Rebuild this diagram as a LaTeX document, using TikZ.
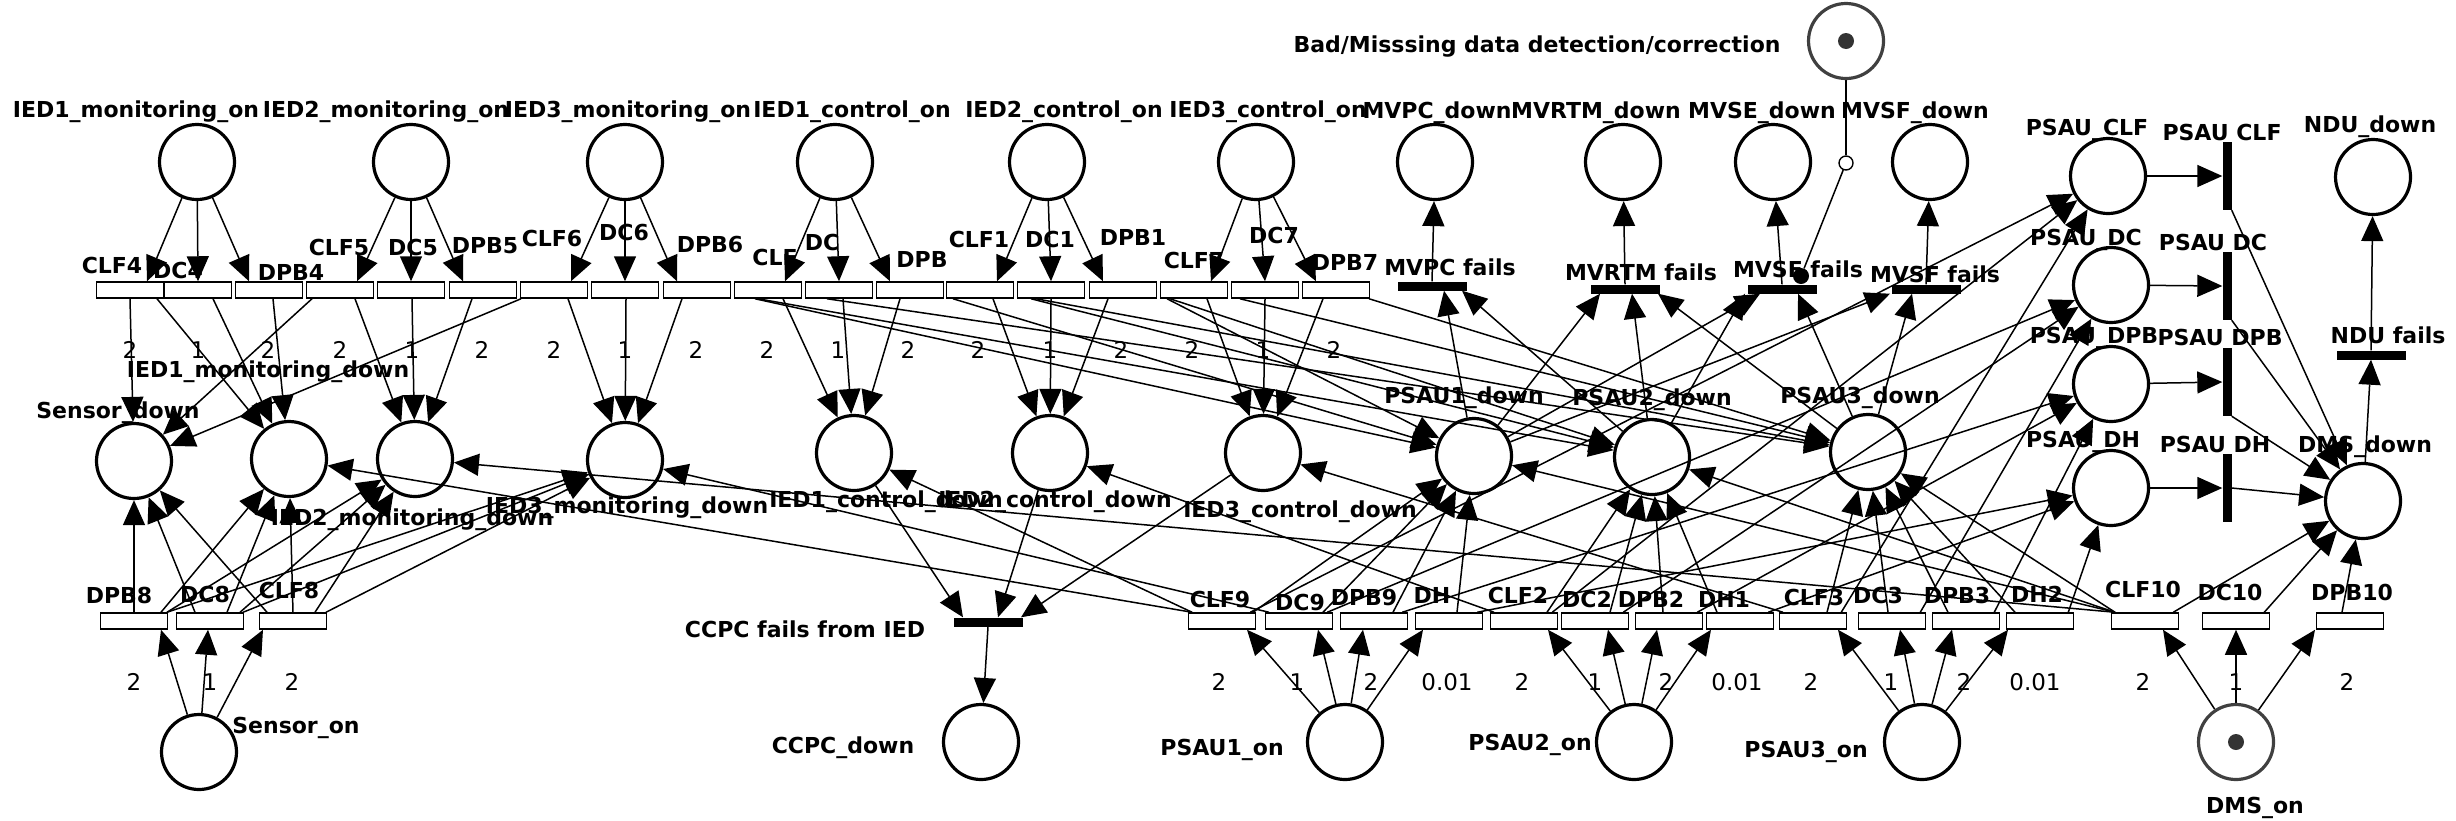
\documentclass[tikz,border=0pt]{standalone}
\usepackage{fontspec}
\setmainfont{DejaVu Sans}
\usetikzlibrary{arrows.meta, calc, backgrounds}

\tikzset{
  pl/.style={circle, draw, line width=3.2pt, minimum size=75pt, inner sep=0pt},
  tok/.style={circle, fill=black!80, minimum size=16pt, inner sep=0pt},
  tbox/.style={rectangle, draw, fill=white, line width=1.5pt, minimum width=67pt, minimum height=16pt, inner sep=0pt},
  hbar/.style={rectangle, fill=black, minimum width=69pt, minimum height=9pt, inner sep=0pt},
  vbar/.style={rectangle, fill=black, minimum width=9pt, minimum height=68pt, inner sep=0pt},
  lbl/.style={font=\fontsize{22}{24}\selectfont\bfseries, anchor=base, inner sep=0pt},
  wt/.style={font=\fontsize{23}{25}\selectfont, anchor=base, inner sep=0pt},
  flow/.style={line width=1.5pt, -{Triangle[length=25pt,width=22pt]}},
}

\begin{document}
\begin{tikzpicture}[x=1pt, y=-1pt]
\useasboundingbox (0,0) rectangle (2456,820);

% places
\foreach \n/\x/\y in {imon1/197/162, imon2/411/162, imon3/625/162, ictl1/835/162, ictl2/1047/162, ictl3/1256/162,
    mvpcd/1435/162, mvrtmd/1623/162, mvsed/1773/162, mvsfd/1930/162,
    psauclf/2108/176, psaudc/2111/285, psaudpb/2111/384, psaudh/2111/488, ndud/2373/177, dmsd/2363/501,
    sensd/134/461, imd1/289/459, imd2/415/459, imd3/625/460, icd1/854/453, icd2/1050/453, icd3/1263/453,
    p1d/1474/456, p2d/1652/457, p3d/1868/452,
    senson/199/752, ccpcd/981/742, p1on/1345/742, p2on/1634/742, p3on/1922/742}
  \node[pl] (\n) at (\x,\y) {};
\node[pl, draw=black!75] (bad) at (1846,41) {};
\node[pl, draw=black!75] (dmson) at (2236,742) {};
\node[tok] (badtok) at (bad) {};
\node[tok] (dmstok) at (dmson) {};

% timed transitions
\foreach \n/\x in {clf4/130, dc4/198, dpb4/269, clf5/340, dc5/411, dpb5/483, clf6/554, dc6/625, dpb6/697,
    clf/768, dc/839, dpb/910, clf1/980, dc1/1051, dpb1/1123, clf7/1194, dc7/1265, dpb7/1336}
  \node[tbox] (\n) at (\x,290) {};
\foreach \n/\x in {dpb8/134, dc8/210, clf8/293, clf9/1222, dc9/1299, dpb9/1374, dh/1449,
    clf2/1524, dc2/1595, dpb2/1669, dh1/1740, clf3/1813, dc3/1892, dpb3/1966, dh2/2040,
    clf10/2145, dc10/2236, dpb10/2350}
  \node[tbox] (\n) at (\x,621) {};

% immediate transitions
\foreach \n/\x/\y in {mvpcf/1432/286, mvrtmf/1625/289, mvsef/1782/289, mvsff/1926/289, ccpcf/988/622, nduf/2371/355}
  \node[hbar] (\n) at (\x,\y) {};
\foreach \n/\y in {clfbar/176, dcbar/286, dpbbar/382, dhbar/488}
  \node[vbar] (\n) at (2227,\y) {};

% inhibitor
\node[circle, draw, line width=1.4pt, fill=white, minimum size=14pt, inner sep=0pt] (inhring) at (1846,163) {};
\node[circle, fill=black, minimum size=16pt, inner sep=0pt] (inhdot) at (1801,276) {};

\begin{scope}[on background layer]
% place labels
\node[lbl] (lbad) at (1537,52) {Bad/Misssing data detection/correction};
\foreach \n/\t/\x/\y in {imon1/IED1\_monitoring\_on/136/117, imon2/IED2\_monitoring\_on/386/117, imon3/IED3\_monitoring\_on/628/117,
    ictl1/IED1\_control\_on/852/117, ictl2/IED2\_control\_on/1064/117, ictl3/IED3\_control\_on/1268/117,
    mvpcd/MVPC\_down/1437/118, mvrtmd/MVRTM\_down/1596/118, mvsed/MVSE\_down/1762/118, mvsfd/MVSF\_down/1915/118,
    psauclf/PSAU\_CLF/2087/135, psaudc/PSAU\_DC/2086/245, psaudpb/PSAU\_DPB/2094/343, psaudh/PSAU\_DH/2083/447,
    ndud/NDU\_down/2370/132, dmsd/DMS\_down/2365/452,
    sensd/Sensor\_down/118/418, imd1/IED1\_monitoring\_down/268/377, imd2/IED2\_monitoring\_down/412/525,
    imd3/IED3\_monitoring\_down/627/513, icd1/IED1\_control\_down/886/507, icd2/IED2\_control\_down/1055/507,
    icd3/IED3\_control\_down/1300/517, p1d/PSAU1\_down/1464/403, p2d/PSAU2\_down/1652/405, p3d/PSAU3\_down/1860/403,
    ccpcd/CCPC\_down/843/753, senson/Sensor\_on/296/733, p1on/PSAU1\_on/1222/755, p2on/PSAU2\_on/1530/750,
    p3on/PSAU3\_on/1806/757, dmson/DMS\_on/2255/813}
  \node[lbl] (l\n) at (\x,\y) {\t};

% transition labels
\foreach \n/\t/\x/\y in {clf4/CLF4/112/273, dc4/DC4/178/278, dpb4/DPB4/291/280, clf5/CLF5/339/255, dc5/DC5/413/255,
    dpb5/DPB5/485/253, clf6/CLF6/552/246, dc6/DC6/624/240, dpb6/DPB6/710/252, clf/CLF/775/265, dc/DC/822/250,
    dpb/DPB/922/267, clf1/CLF1/979/247, dc1/DC1/1050/247, dpb1/DPB1/1133/245, clf7/CLF7/1194/268, dc7/DC7/1274/243,
    dpb7/DPB7/1345/270,
    dpb8/DPB8/119/603, dc8/DC8/205/602, clf8/CLF8/289/598, clf9/CLF9/1220/607, dc9/DC9/1300/610, dpb9/DPB9/1364/605,
    dh/DH/1432/603, clf2/CLF2/1518/603, dc2/DC2/1587/607, dpb2/DPB2/1651/607, dh1/DH1/1724/607, clf3/CLF3/1814/605,
    dc3/DC3/1878/603, dpb3/DPB3/1957/603, dh2/DH2/2037/602, clf10/CLF10/2143/597, dc10/DC10/2230/600,
    dpb10/DPB10/2352/600,
    mvpcf/MVPC fails/1450/275, mvrtmf/MVRTM fails/1641/280, mvsef/MVSE fails/1798/277, mvsff/MVSF fails/1935/282,
    ccpcf/CCPC fails from IED/805/637, nduf/NDU fails/2388/343,
    clfbar/PSAU CLF/2222/140, dcbar/PSAU DC/2213/250, dpbbar/PSAU DPB/2220/345, dhbar/PSAU DH/2215/452}
  \node[lbl] (l\n) at (\x,\y) {\t};

% weights
\foreach \x/\w [count=\i] in {130/2, 198/1, 268/2, 340/2, 412/1, 482/2, 554/2, 625/1, 696/2, 767/2, 838/1, 908/2,
    978/2, 1050/1, 1121/2, 1192/2, 1263/1, 1334/2}
  \node[wt] (wtop\i) at (\x,358) {\w};
\foreach \x/\w [count=\i] in {134/2, 210/1, 292/2, 1219/2, 1297/1, 1371/2, 1447/0.01, 1522/2, 1595/1, 1666/2,
    1737/0.01, 1811/2, 1891/1, 1964/2, 2035/0.01, 2143/2, 2236/1, 2347/2}
  \node[wt] (wbot\i) at (\x,690) {\w};

% on places to upper transitions
\foreach \s/\t/\d in {imon1/clf4/17, imon1/dc4/0, imon1/dpb4/-20, imon2/clf5/17, imon2/dc5/0, imon2/dpb5/-20,
    imon3/clf6/17, imon3/dc6/0, imon3/dpb6/-20, ictl1/clf/17, ictl1/dc/0, ictl1/dpb/-20,
    ictl2/clf1/17, ictl2/dc1/0, ictl2/dpb1/-20, ictl3/clf7/17, ictl3/dc7/0, ictl3/dpb7/-20}
  \draw[flow] (\s) -- ($(\t.north)+(\d,0)$);

% upper transitions to down places
\foreach \s/\d/\t in {clf4/0/sensd, clf4/27/imd1, dc4/15/imd1, dpb4/4/imd1, clf5/-28/sensd, clf5/15/imd2,
    dc5/1/imd2, dpb5/-11/imd2, clf6/-33/sensd, clf6/14/imd3, dc6/1/imd3, dpb6/-15/imd3,
    clf/15/icd1, dc/4/icd1, dpb/-10/icd1, clf1/13/icd2, dc1/0/icd2, dpb1/-15/icd2,
    clf7/13/icd3, dc7/0/icd3, dpb7/-13/icd3,
    clf/-13/p1d, clf/-10/p2d, dc/-12/p3d, clf1/-27/p1d, dc1/-20/p2d, dc1/-15/p3d,
    clf7/-27/p1d, clf7/-24/p2d, dc7/-25/p3d, dpb7/33/p3d}
  \draw[flow] ($(\s.south)+(\d,0)$) -- (\t);

% on places to lower transitions
\foreach \s/\t/\d in {senson/dpb8/27, senson/dc8/-2, senson/clf8/-30,
    p1on/clf9/25, p1on/dc9/19, p1on/dpb9/-11, p1on/dh/-26, p2on/clf2/24, p2on/dc2/13, p2on/dpb2/-12, p2on/dh1/-29,
    p3on/clf3/25, p3on/dc3/8, p3on/dpb3/-14, p3on/dh2/-32, dmson/clf10/18, dmson/dc10/0, dmson/dpb10/-35}
  \draw[flow] (\s) -- ($(\t.south)+(\d,0)$);

% lower transitions upwards
\foreach \s/\d/\t in {dpb8/0/sensd, dpb8/27/imd1, dpb8/33/imd2, dpb8/33/imd3, dc8/-15/sensd, dc8/17/imd1,
    dc8/30/imd2, dc8/33/imd3, clf8/-26/sensd, clf8/0/imd1, clf8/22/imd2, clf8/33/imd3,
    clf9/31/p1d, dc9/24/p1d, dpb9/19/p1d, dh/8/p1d, clf2/23/p2d, dc2/15/p2d, dpb2/-6/p2d, dh1/-23/p2d,
    clf3/14/p3d, dc3/-4/p3d, dpb3/-18/p3d, dh2/-25/p3d, dpb10/-8/dmsd,
    clf9/-30/imd1, clf9/-30/icd1, dc9/-30/imd3, clf2/-30/icd2, clf3/-30/icd3,
    clf10/-30/imd2, clf10/-30/p1d, clf10/-30/p2d, clf10/-30/p3d}
  \draw[flow] ($(\s.north)+(\d,0)$) -- (\t);
\foreach \s/\t in {clf9/psauclf, clf2/psauclf, clf3/psauclf, dc9/psaudc, dc2/psaudc, dc3/psaudc,
    dpb9/psaudpb, dpb2/psaudpb, dpb3/psaudpb, dh/psaudh, dh1/psaudh, dh2/psaudh, clf10/dmsd, dc10/dmsd}
  \draw[flow] ($(\s.north east)+(-6,0)$) -- (\t);

% right column
\foreach \s/\t in {psauclf/clfbar, psaudc/dcbar, psaudpb/dpbbar, psaudh/dhbar}
  \draw[flow] (\s) -- (\t.west);
\foreach \s in {clfbar, dcbar, dpbbar}
  \draw[flow] (\s.south east) -- (dmsd);
\draw[flow] (dhbar.east) -- (dmsd);
\draw[flow] (dmsd) -- (nduf.south);
\draw[flow] (nduf.north) -- (ndud);

% measurement functions
\foreach \s/\t/\d in {p1d/mvpcf/12, p2d/mvpcf/30, p1d/mvrtmf/-25, p2d/mvrtmf/7, p3d/mvrtmf/33,
    p2d/mvsef/-37, p1d/mvsef/-22, p3d/mvsef/16, p1d/mvsff/-36, p3d/mvsff/-14}
  \draw[flow] (\s) -- ($(\t.south)+(\d,0)$);
\foreach \s/\t in {mvpcf/mvpcd, mvrtmf/mvrtmd, mvsef/mvsed, mvsff/mvsfd}
  \draw[flow] (\s.north) -- (\t);
\draw[line width=1.5pt] (bad) -- (inhring);
\draw[line width=1.5pt] (inhring) -- (inhdot);

% control centre
\foreach \s/\d in {icd1/-25, icd2/10, icd3/33}
  \draw[flow] (\s) -- ($(ccpcf.north)+(\d,0)$);
\draw[flow] (ccpcf.south) -- (ccpcd);
\end{scope}
\end{tikzpicture}
\end{document}
